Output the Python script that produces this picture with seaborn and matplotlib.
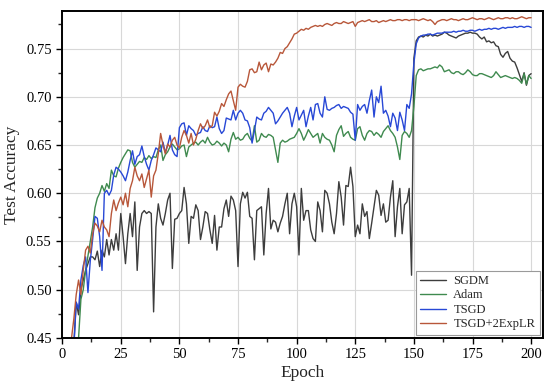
import matplotlib
matplotlib.use("Agg")
import matplotlib.pyplot as plt
from matplotlib.ticker import MultipleLocator
import numpy as np
import pandas as pd
import seaborn as sns

# test accuracy per epoch
epochs = list(range(1, 201))

sgdm = [
    0.300, 0.360, 0.400, 0.430, 0.445, 0.487, 0.474, 0.500, 0.510, 0.520,
    0.527, 0.534, 0.534, 0.531, 0.540, 0.524, 0.541, 0.534, 0.552, 0.536,
    0.552, 0.541, 0.558, 0.541, 0.579, 0.555, 0.527, 0.558, 0.579, 0.555,
    0.591, 0.520, 0.565, 0.579, 0.582, 0.579, 0.581, 0.579, 0.477, 0.565,
    0.589, 0.574, 0.567, 0.579, 0.593, 0.600, 0.522, 0.573, 0.574, 0.579,
    0.582, 0.606, 0.589, 0.548, 0.576, 0.574, 0.588, 0.582, 0.552, 0.565,
    0.581, 0.579, 0.562, 0.548, 0.577, 0.541, 0.565, 0.565, 0.584, 0.593,
    0.576, 0.597, 0.593, 0.582, 0.524, 0.589, 0.601, 0.595, 0.601, 0.576,
    0.574, 0.531, 0.582, 0.584, 0.586, 0.536, 0.579, 0.605, 0.563, 0.572,
    0.570, 0.560, 0.569, 0.576, 0.589, 0.600, 0.558, 0.589, 0.600, 0.586,
    0.536, 0.605, 0.572, 0.582, 0.582, 0.562, 0.553, 0.550, 0.591, 0.582,
    0.560, 0.603, 0.600, 0.589, 0.570, 0.558, 0.579, 0.612, 0.596, 0.567,
    0.608, 0.607, 0.627, 0.607, 0.555, 0.567, 0.558, 0.589, 0.576, 0.581,
    0.553, 0.569, 0.586, 0.603, 0.598, 0.577, 0.589, 0.570, 0.572, 0.596,
    0.613, 0.555, 0.586, 0.605, 0.558, 0.588, 0.591, 0.605, 0.515, 0.740,
    0.758, 0.762, 0.763, 0.762, 0.764, 0.763, 0.765, 0.763, 0.764, 0.763,
    0.764, 0.765, 0.767, 0.766, 0.764, 0.763, 0.762, 0.761, 0.763, 0.764,
    0.765, 0.766, 0.766, 0.767, 0.766, 0.766, 0.765, 0.762, 0.760, 0.762,
    0.757, 0.758, 0.756, 0.757, 0.753, 0.752, 0.744, 0.741, 0.745, 0.747,
    0.740, 0.737, 0.736, 0.730, 0.723, 0.716, 0.725, 0.712, 0.722, 0.724,
]

adam = [
    0.280, 0.330, 0.370, 0.400, 0.420, 0.435, 0.450, 0.490, 0.500, 0.520,
    0.535, 0.550, 0.565, 0.585, 0.595, 0.600, 0.608, 0.602, 0.610, 0.605,
    0.624, 0.618, 0.617, 0.626, 0.632, 0.637, 0.641, 0.645, 0.644, 0.632,
    0.627, 0.630, 0.633, 0.632, 0.637, 0.635, 0.639, 0.636, 0.638, 0.637,
    0.645, 0.650, 0.634, 0.640, 0.643, 0.648, 0.651, 0.648, 0.645, 0.646,
    0.649, 0.650, 0.638, 0.648, 0.650, 0.652, 0.653, 0.650, 0.653, 0.655,
    0.652, 0.658, 0.653, 0.650, 0.651, 0.654, 0.652, 0.649, 0.652, 0.650,
    0.643, 0.656, 0.663, 0.656, 0.658, 0.655, 0.656, 0.660, 0.662, 0.657,
    0.654, 0.670, 0.653, 0.655, 0.662, 0.659, 0.658, 0.661, 0.660, 0.658,
    0.645, 0.632, 0.652, 0.655, 0.653, 0.654, 0.656, 0.657, 0.658, 0.662,
    0.667, 0.662, 0.655, 0.660, 0.666, 0.662, 0.658, 0.660, 0.662, 0.652,
    0.662, 0.658, 0.656, 0.655, 0.650, 0.643, 0.660, 0.666, 0.670, 0.659,
    0.662, 0.664, 0.658, 0.656, 0.655, 0.667, 0.669, 0.660, 0.655, 0.662,
    0.665, 0.664, 0.660, 0.663, 0.661, 0.658, 0.664, 0.667, 0.670, 0.665,
    0.662, 0.658, 0.648, 0.635, 0.660, 0.664, 0.662, 0.658, 0.665, 0.690,
    0.722, 0.728, 0.729, 0.727, 0.728, 0.729, 0.729, 0.730, 0.731, 0.730,
    0.733, 0.731, 0.726, 0.727, 0.728, 0.725, 0.724, 0.726, 0.726, 0.724,
    0.723, 0.725, 0.728, 0.726, 0.723, 0.722, 0.722, 0.724, 0.724, 0.723,
    0.722, 0.721, 0.720, 0.722, 0.726, 0.723, 0.720, 0.721, 0.722, 0.721,
    0.720, 0.719, 0.720, 0.719, 0.717, 0.714, 0.724, 0.713, 0.722, 0.719,
]

tsgd = [
    0.290, 0.340, 0.390, 0.420, 0.440, 0.487, 0.480, 0.510, 0.525, 0.534,
    0.497, 0.530, 0.552, 0.576, 0.574, 0.555, 0.520, 0.600, 0.603, 0.598,
    0.603, 0.619, 0.627, 0.625, 0.622, 0.618, 0.613, 0.622, 0.634, 0.644,
    0.630, 0.638, 0.640, 0.649, 0.638, 0.630, 0.624, 0.634, 0.640, 0.647,
    0.645, 0.643, 0.653, 0.642, 0.650, 0.660, 0.645, 0.640, 0.638, 0.668,
    0.672, 0.673, 0.660, 0.670, 0.667, 0.665, 0.660, 0.662, 0.663, 0.669,
    0.665, 0.664, 0.670, 0.668, 0.669, 0.679, 0.667, 0.662, 0.665, 0.678,
    0.677, 0.676, 0.686, 0.676, 0.683, 0.686, 0.683, 0.676, 0.675, 0.668,
    0.652, 0.665, 0.679, 0.677, 0.676, 0.683, 0.685, 0.689, 0.686, 0.683,
    0.672, 0.675, 0.679, 0.683, 0.686, 0.689, 0.683, 0.669, 0.680, 0.689,
    0.676, 0.681, 0.686, 0.669, 0.680, 0.689, 0.676, 0.692, 0.693, 0.683,
    0.679, 0.700, 0.687, 0.686, 0.688, 0.689, 0.691, 0.692, 0.688, 0.690,
    0.689, 0.688, 0.684, 0.682, 0.655, 0.692, 0.686, 0.690, 0.692, 0.683,
    0.696, 0.707, 0.679, 0.700, 0.694, 0.711, 0.683, 0.686, 0.680, 0.669,
    0.683, 0.678, 0.665, 0.684, 0.676, 0.665, 0.692, 0.688, 0.703, 0.735,
    0.755, 0.761, 0.763, 0.764, 0.764, 0.765, 0.765, 0.764, 0.765, 0.766,
    0.766, 0.766, 0.767, 0.767, 0.767, 0.767, 0.768, 0.767, 0.768, 0.768,
    0.769, 0.768, 0.768, 0.769, 0.769, 0.768, 0.769, 0.770, 0.769, 0.770,
    0.770, 0.771, 0.770, 0.771, 0.771, 0.770, 0.771, 0.772, 0.771, 0.772,
    0.772, 0.772, 0.773, 0.772, 0.773, 0.773, 0.772, 0.773, 0.773, 0.772,
]

tsgd_2exp = [
    0.320, 0.380, 0.420, 0.450, 0.470, 0.495, 0.510, 0.495, 0.520, 0.541,
    0.545, 0.538, 0.558, 0.569, 0.566, 0.560, 0.572, 0.565, 0.562, 0.555,
    0.579, 0.593, 0.582, 0.590, 0.596, 0.588, 0.600, 0.586, 0.605, 0.613,
    0.627, 0.618, 0.613, 0.620, 0.606, 0.615, 0.624, 0.596, 0.618, 0.624,
    0.641, 0.662, 0.650, 0.641, 0.651, 0.648, 0.655, 0.658, 0.650, 0.647,
    0.658, 0.665, 0.660, 0.652, 0.662, 0.650, 0.656, 0.665, 0.672, 0.667,
    0.670, 0.676, 0.668, 0.670, 0.684, 0.680, 0.685, 0.693, 0.690, 0.697,
    0.703, 0.706, 0.696, 0.686, 0.710, 0.713, 0.711, 0.710, 0.716, 0.728,
    0.729, 0.725, 0.726, 0.736, 0.728, 0.733, 0.735, 0.726, 0.734, 0.733,
    0.736, 0.740, 0.746, 0.745, 0.750, 0.752, 0.756, 0.760, 0.765, 0.766,
    0.768, 0.770, 0.769, 0.771, 0.770, 0.772, 0.773, 0.774, 0.773, 0.774,
    0.773, 0.775, 0.776, 0.775, 0.774, 0.776, 0.777, 0.776, 0.776, 0.778,
    0.777, 0.776, 0.777, 0.778, 0.773, 0.777, 0.778, 0.779, 0.778, 0.779,
    0.780, 0.778, 0.778, 0.779, 0.777, 0.778, 0.779, 0.778, 0.779, 0.780,
    0.779, 0.779, 0.780, 0.780, 0.779, 0.780, 0.780, 0.779, 0.780, 0.780,
    0.780, 0.779, 0.780, 0.781, 0.780, 0.779, 0.780, 0.778, 0.775, 0.778,
    0.779, 0.780, 0.780, 0.779, 0.780, 0.781, 0.780, 0.780, 0.779, 0.780,
    0.781, 0.780, 0.780, 0.781, 0.782, 0.781, 0.780, 0.781, 0.781, 0.780,
    0.781, 0.782, 0.781, 0.780, 0.781, 0.782, 0.781, 0.781, 0.782, 0.782,
    0.781, 0.782, 0.781, 0.781, 0.782, 0.783, 0.782, 0.781, 0.782, 0.782,
]

methods = ['SGDM', 'Adam', 'TSGD', 'TSGD+2ExpLR']
colors = ['#3d3d3d', '#3f8a4f', '#2848d6', '#b8573a']

df = pd.DataFrame({'Epoch': epochs, 'SGDM': sgdm, 'Adam': adam,
                   'TSGD': tsgd, 'TSGD+2ExpLR': tsgd_2exp})
df = df.melt(id_vars='Epoch', var_name='Method', value_name='Acc')

sns.set_style('ticks')
plt.rcParams['font.family'] = ['Liberation Serif', 'DejaVu Serif']

fig = plt.figure(figsize=(5.5, 3.92), dpi=100)
ax = fig.add_axes([0.113, 0.138, 0.874, 0.834])

sns.lineplot(data=df, x='Epoch', y='Acc', hue='Method', hue_order=methods,
             palette=colors, linewidth=1.0, ax=ax)

ax.set_xlim(0, 205)
ax.set_ylim(0.45, 0.789)
ax.xaxis.set_major_locator(MultipleLocator(25))
ax.xaxis.set_minor_locator(MultipleLocator(12.5))
ax.yaxis.set_major_locator(MultipleLocator(0.05))
ax.yaxis.set_minor_locator(MultipleLocator(0.025))
ax.yaxis.set_major_formatter(plt.FormatStrFormatter('%.2f'))
ax.grid(True, which='major', color='#d8d8d8', linewidth=0.8)
ax.tick_params(which='major', direction='out', length=4, width=1, labelsize=10.5, colors='black')
ax.tick_params(which='minor', direction='out', length=3, width=1)
for s in ax.spines.values():
    s.set_linewidth(1.4)
    s.set_color('black')

ax.set_xlabel('Epoch', fontsize=12.5, labelpad=3)
ax.set_ylabel('Test Accuracy', fontsize=12.5, labelpad=4)

leg = ax.legend(loc='lower right', fontsize=9, frameon=True, fancybox=False,
                edgecolor='#9a9a9a', framealpha=1, handlelength=2.1,
                handletextpad=0.55, labelspacing=0.2, borderaxespad=0.25,
                borderpad=0.35)
leg.get_frame().set_linewidth(0.8)
for line in leg.get_lines():
    line.set_linewidth(1.0)

fig.savefig('out.png', dpi=100)
